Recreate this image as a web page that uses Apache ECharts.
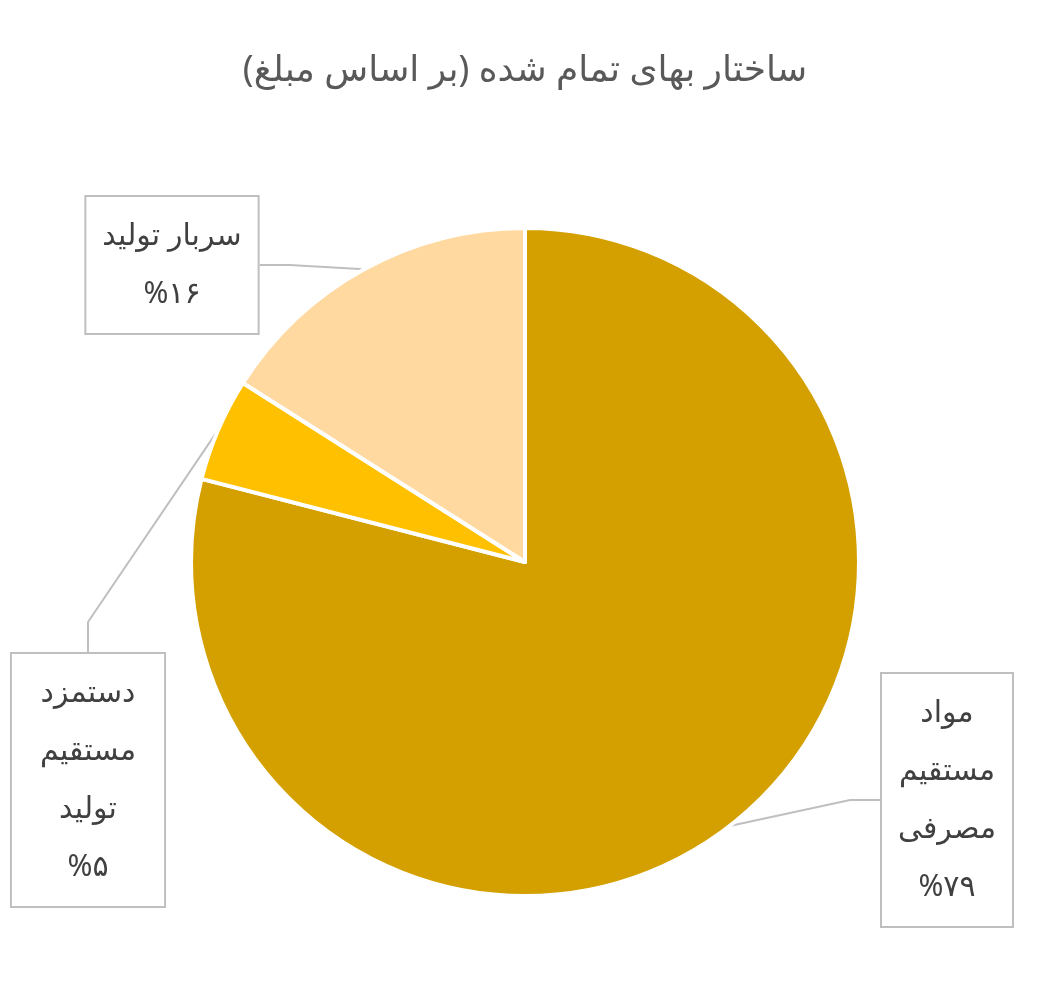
<!DOCTYPE html>
<html><head><meta charset="utf-8">
<script src="https://cdn.jsdelivr.net/npm/echarts@6/dist/echarts.min.js"></script>
<style>html,body{margin:0;padding:0;background:#fff}#main{width:1050px;height:1004px}</style>
</head><body><div id="main"></div>
<script>
var categories = ['مواد\nمستقیم\nمصرفی', 'دستمزد\nمستقیم\nتولید', 'سربار تولید'];
var values = [79, 5, 16];
var pctLabels = ['%۷۹', '%۵', '%۱۶'];
var colors = ['#D4A000', '#FFC000', '#FFD9A0'];
// label box centres (dataIndex order)
var labelPos = [[947, 800], [88, 780], [172, 265]];

var chart = echarts.init(document.getElementById('main'));
chart.setOption({
  title: {
    text: 'ساختار بهای تمام شده (بر اساس مبلغ)',
    left: 'center', top: 48,
    textStyle: {color: '#595959', fontSize: 36, fontWeight: 'normal', fontFamily: 'Noto Sans, DejaVu Sans'}
  },
  series: [{
    type: 'pie',
    center: [525, 562],
    radius: 334,
    startAngle: 90,
    clockwise: true,
    itemStyle: {borderColor: '#fff', borderWidth: 4},
    label: {
      show: true,
      color: '#404040',
      fontSize: 30,
      lineHeight: 58,
      fontFamily: 'Noto Sans, DejaVu Sans',
      backgroundColor: '#fff',
      borderColor: '#bfbfbf',
      borderWidth: 2,
      padding: [10, 16],
      align: 'center',
      formatter: function (p) { return p.name + '\n' + pctLabels[p.dataIndex]; }
    },
    labelLine: {show: true, lineStyle: {color: '#bfbfbf', width: 2}},
    labelLayout: function (p) {
      var c = labelPos[p.dataIndex];
      return {x: c[0], y: c[1], align: 'center', verticalAlign: 'middle'};
    },
    data: categories.map(function (n, i) {
      return {name: n, value: values[i], itemStyle: {color: colors[i]}};
    })
  }]
});
</script></body></html>
